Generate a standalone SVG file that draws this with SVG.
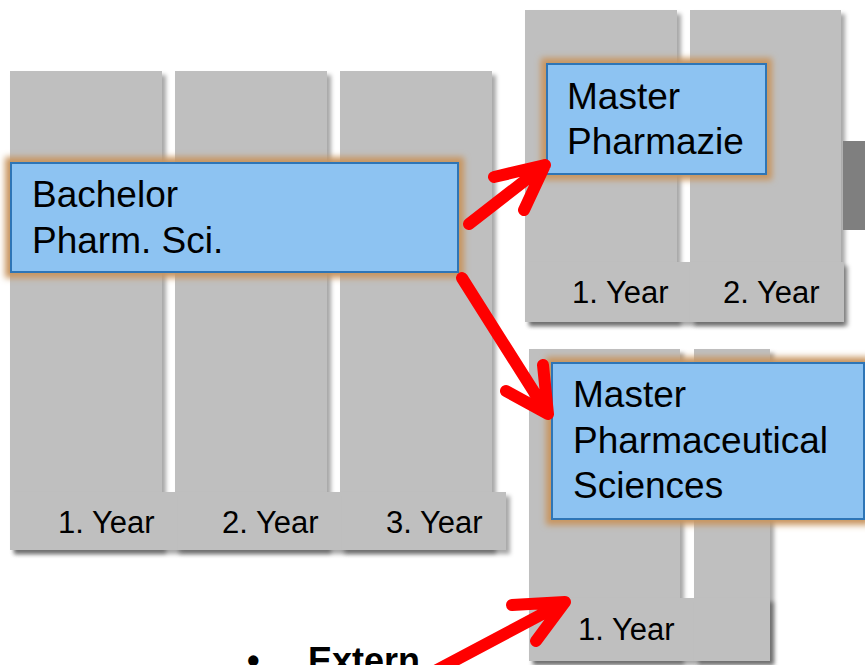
<svg xmlns="http://www.w3.org/2000/svg" width="865" height="665" viewBox="0 0 865 665">
<defs>
<filter id="sh" x="-10%" y="-10%" width="130%" height="130%">
<feDropShadow dx="4" dy="4" stdDeviation="2" flood-color="#000" flood-opacity="0.35"/>
</filter>
<filter id="glow" x="-20%" y="-20%" width="140%" height="140%">
<feMorphology in="SourceAlpha" operator="dilate" radius="5" result="d"/>
<feGaussianBlur in="d" stdDeviation="3" result="b"/>
<feFlood flood-color="#C8955F" flood-opacity="1"/>
<feComposite in2="b" operator="in" result="g"/>
<feMerge><feMergeNode in="g"/><feMergeNode in="SourceGraphic"/></feMerge>
</filter>
</defs>
<style>
.col{fill:#BFBFBF;filter:url(#sh)}
.yr{font-family:"Liberation Sans",Arial,sans-serif;font-size:31px;fill:#000}
.box{fill:#8DC3F2;stroke:#2E75B6;stroke-width:2;filter:url(#glow)}
.bt{font-family:"Liberation Sans",Arial,sans-serif;font-size:37px;fill:#000}
.arr{fill:none;stroke:#FF0000;stroke-width:12;stroke-linecap:round;stroke-linejoin:round}
</style>

<g id="bachelor-years">
<rect class="col" x="10" y="71" width="152" height="479"/>
<rect class="col" x="175" y="71" width="152" height="479"/>
<rect class="col" x="340" y="71" width="152" height="479"/>
<rect class="col" x="10" y="492" width="168" height="58"/>
<rect class="col" x="178" y="492" width="164" height="58"/>
<rect class="col" x="342" y="492" width="164" height="58"/>
<text class="yr" x="58" y="533">1. Year</text>
<text class="yr" x="222" y="533">2. Year</text>
<text class="yr" x="386" y="533">3. Year</text>
</g>

<g id="pharmazie-years">
<rect class="col" x="525" y="10" width="152" height="312"/>
<rect class="col" x="690" y="10" width="151" height="312"/>
<rect class="col" x="525" y="262" width="165" height="60"/>
<rect class="col" x="690" y="262" width="154" height="60"/>
<text class="yr" x="572" y="303">1. Year</text>
<text class="yr" x="723" y="303">2. Year</text>
</g>

<g id="side-tab">
<rect x="843" y="141" width="22" height="89" fill="#7F7F7F"/>
</g>

<g id="pharmsci-years">
<rect class="col" x="529" y="349" width="151" height="312"/>
<rect class="col" x="694" y="349" width="76" height="312"/>
<rect class="col" x="529" y="598" width="165" height="63"/>
<rect class="col" x="694" y="598" width="76" height="63"/>
<text class="yr" x="578" y="640">1. Year</text>
</g>

<g id="bachelor">
<rect class="box" x="11" y="163" width="447" height="109"/>
<text class="bt" x="32" y="207">Bachelor</text>
<text class="bt" x="32" y="253">Pharm. Sci.</text>
</g>

<g id="master-pharmazie">
<rect class="box" x="547" y="64" width="219" height="110"/>
<text class="bt" x="567" y="109">Master</text>
<text class="bt" x="567" y="154">Pharmazie</text>
</g>

<g id="master-pharm-sci">
<rect class="box" x="552" y="363" width="312" height="156"/>
<text class="bt" x="573" y="407">Master</text>
<text class="bt" x="573" y="453">Pharmaceutical</text>
<text class="bt" x="573" y="498">Sciences</text>
</g>

<g id="extern">
<text x="247" y="673" font-family="'Liberation Sans',Arial,sans-serif" font-size="36" font-weight="bold" fill="#000">•</text>
<text x="308" y="673" font-family="'Liberation Sans',Arial,sans-serif" font-size="36" font-weight="bold" fill="#000">Extern</text>
</g>

<g id="connectors">
<path class="arr" d="M469,224 L545,165 M494,177 L545,165 L524,210"/>
<path class="arr" d="M462,278 L548,414 M506,391 L548,414 L543,365"/>
<path class="arr" d="M420,679 L565,602 M512,605 L565,602 L536,641"/>
</g>
</svg>
